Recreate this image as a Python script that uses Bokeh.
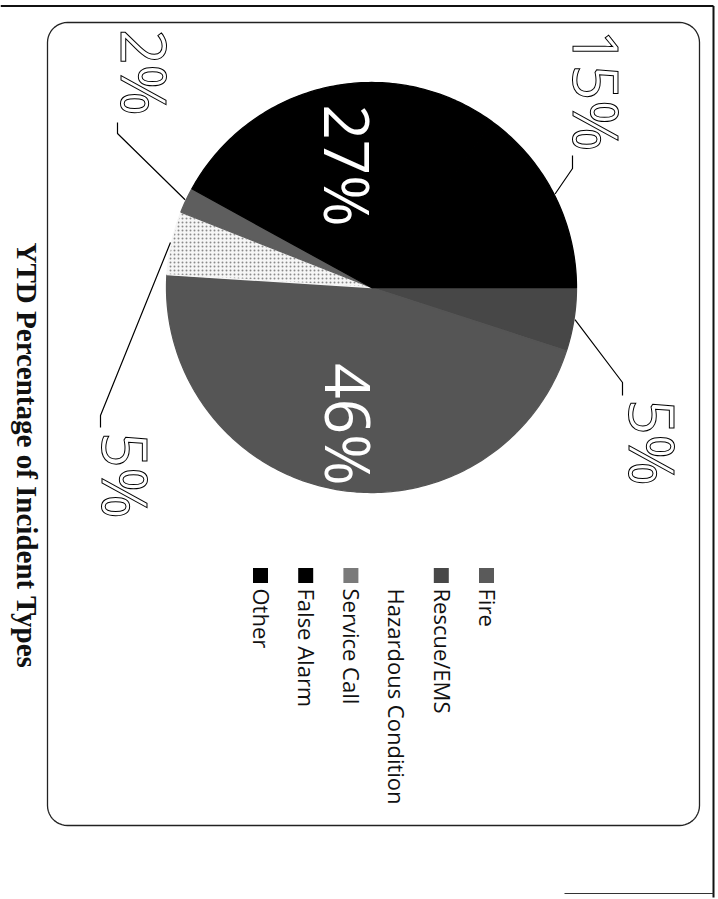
import numpy as np
from bokeh.plotting import figure
from bokeh.models import Range1d
from bokeh.core.properties import value
from bokeh.embed import file_html
from bokeh.resources import INLINE

# ---------------- data ----------------
categories = ["Fire", "Rescue/EMS", "Hazardous Condition", "Service Call", "False Alarm", "Other"]
percent = [5, 46, 5, 2, 27, 15]
pct_labels = ["5%", "46%", "5%", "2%", "27%", "15%"]
title_text = "YTD Percentage of Incident Types"

# ---------------- styles ----------------
slice_colors = ["#474747", "#555555", "#f6f6f6", "#5e5e5e", "#000000", "#000000"]
slice_hatch = [" ", " ", ".", " ", " ", " "]
legend_colors = ["#5a5a5a", "#484848", "#ffffff", "#7a7a7a", "#000000", "#000000"]

# ---------------- layout (page pixel coordinates) ----------------
W, H = 718, 899
CX, CY, R = 371, 287, 205
LABEL_FS = 62
BSHIFT = 0.42          # baseline correction for rotated text (fraction of font size)
# outside label baseline anchors and leader elbow points, keyed by category index
outside_pos = {0: (626, 442), 2: (99, 475), 3: (118, 72), 5: (570, 90)}
leader_elbow = {0: [(622, 382), (622, 395)], 2: [(100, 415), (100, 427)],
                3: [(117, 133), (117, 122)], 5: [(572, 168), (572, 155)]}
inside_frac = {1: 0.68, 4: 0.61}

p = figure(width=W, height=H, x_range=Range1d(0, W), y_range=Range1d(H, 0),
           output_backend="svg", toolbar_location=None,
           x_axis_location=None, y_axis_location=None, min_border=0)
p.grid.visible = False
p.outline_line_color = None
p.background_fill_color = "white"
p.border_fill_color = "white"

# outer page border (scan frame)
p.line([0, 713], [5.5, 5.5], line_color="#111111", line_width=2)
p.line([713, 713], [5.5, 897], line_color="#111111", line_width=2)
p.line([564, 713], [893, 893], line_color="#333333", line_width=1)

# rounded chart frame
L, Rr, T, B, rad = 47, 699, 22, 825, 20
def arc(cx, cy, a0, a1):
    t = np.linspace(a0, a1, 12)
    return list(cx + rad * np.cos(t)), list(cy + rad * np.sin(t))
fx, fy = [], []
for (cx, cy, a0, a1) in [(L + rad, T + rad, np.pi, 1.5 * np.pi),
                         (Rr - rad, T + rad, 1.5 * np.pi, 2 * np.pi),
                         (Rr - rad, B - rad, 0, 0.5 * np.pi),
                         (L + rad, B - rad, 0.5 * np.pi, np.pi)]:
    ax, ay = arc(cx, cy, a0, a1)
    fx += ax; fy += ay
fx.append(fx[0]); fy.append(fy[0])
p.line(fx, fy, line_color="#222222", line_width=1.3)

# pie slices (start at right = original 12 o'clock, clockwise)
frac = np.array(percent, dtype=float) / sum(percent)
edges = np.concatenate([[0], np.cumsum(frac)]) * 2 * np.pi
xs, ys, mids = [], [], []
for a0, a1 in zip(edges[:-1], edges[1:]):
    t = np.linspace(a0, a1, max(4, int((a1 - a0) * 60)))
    xs.append([CX] + list(CX + R * np.cos(t)))
    ys.append([CY] + list(CY + R * np.sin(t)))
    mids.append((a0 + a1) / 2)
p.patches(xs=xs, ys=ys, fill_color=slice_colors, line_color=slice_colors, line_width=1.3,
          hatch_pattern=slice_hatch, hatch_color="#8a8a8a", hatch_scale=4, hatch_weight=1)

# leader lines and outside labels
for i, (bx, by) in outside_pos.items():
    m = mids[i]
    ex, ey = CX + (R + 1) * np.cos(m), CY + (R + 1) * np.sin(m)
    pts = [(ex, ey)] + leader_elbow[i]
    p.line([q[0] for q in pts], [q[1] for q in pts], line_color="black", line_width=1.2)
    p.text(x=[bx + BSHIFT * LABEL_FS], y=[by], text=[pct_labels[i]], angle=-np.pi / 2,
           text_align="center", text_baseline="alphabetic",
           text_font=value("Open Sans"), text_font_size=f"{LABEL_FS}px",
           text_color="white", text_outline_color="black")

# inside labels
for i, f in inside_frac.items():
    m = mids[i]
    lx, ly = CX + f * R * np.cos(m), CY + f * R * np.sin(m)
    p.text(x=[lx - 0.357 * LABEL_FS + BSHIFT * LABEL_FS], y=[ly], text=[pct_labels[i]],
           angle=-np.pi / 2, text_align="center", text_baseline="alphabetic",
           text_font=value("Open Sans"), text_font_size=f"{LABEL_FS}px",
           text_color="white")

# legend
LEG_X0, LEG_DX, LEG_MY, LEG_TY, LEG_FS = 486, 45.2, 575, 588, 22
lx = [LEG_X0 - k * LEG_DX for k in range(len(categories))]
p.scatter(x=lx, y=[LEG_MY] * len(lx), marker="square", size=15,
          fill_color=legend_colors, line_color=None)
p.text(x=[v - 0.357 * LEG_FS + BSHIFT * LEG_FS for v in lx], y=[LEG_TY] * len(lx),
       text=categories, angle=-np.pi / 2, text_align="left", text_baseline="alphabetic",
       text_font=value("Open Sans"), text_font_size=f"{LEG_FS}px", text_color="#111111")

# title
TITLE_FS = 29
p.text(x=[14 + BSHIFT * TITLE_FS], y=[455], text=[title_text], angle=-np.pi / 2,
       text_align="center", text_baseline="alphabetic",
       text_font=value("Liberation Serif"), text_font_size=f"{TITLE_FS}px",
       text_font_style="bold", text_color="#111111")

open("out.html", "w").write(file_html(p, INLINE))
